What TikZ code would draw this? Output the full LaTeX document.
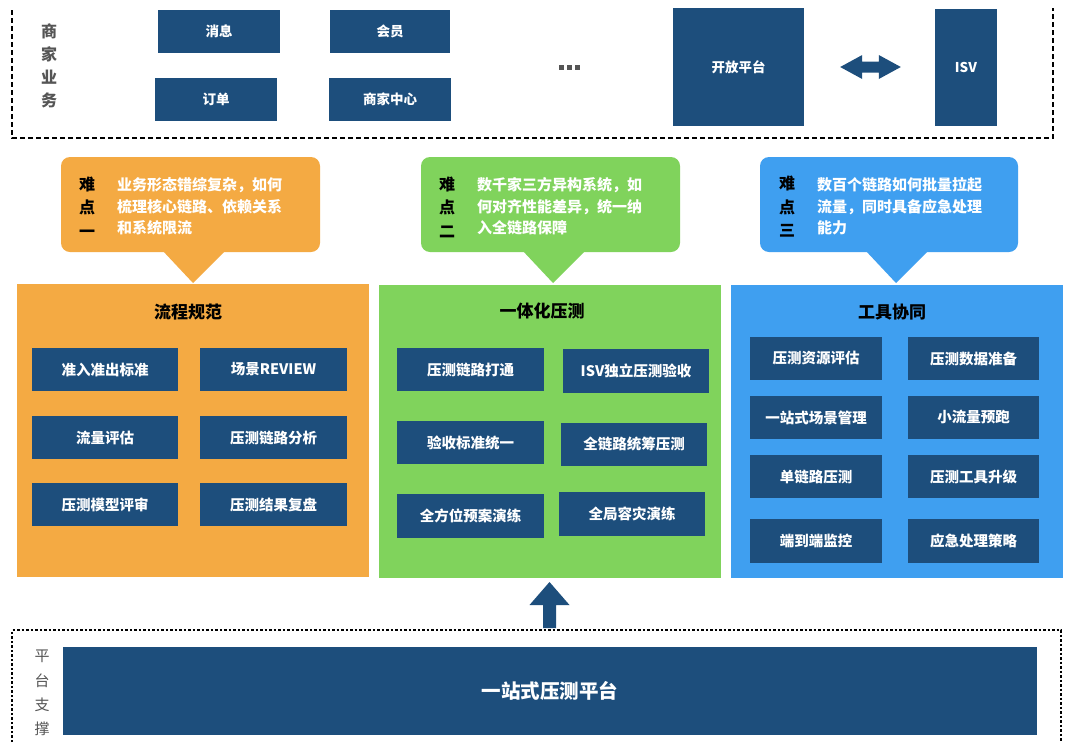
\documentclass[tikz,border=0pt]{standalone}
\usepackage{fontspec}
\setmainfont{Noto Sans CJK SC}
\usetikzlibrary{calc}
\definecolor{dkb}{HTML}{1D4E7C}
\definecolor{corg}{HTML}{F4AA43}
\definecolor{cgrn}{HTML}{80D35C}
\definecolor{cblu}{HTML}{3F9FF0}
\definecolor{gtxt}{HTML}{555555}
\begin{document}
\begin{tikzpicture}[x=1pt,y=-1pt,
  box/.style={fill=dkb,text=white,font=\fontsize{14.5}{16}\selectfont\bfseries,inner sep=0pt,minimum height=43pt},
  topbox/.style={fill=dkb,text=white,font=\fontsize{13.5}{16}\selectfont\bfseries,inner sep=0pt},
  panel/.style={inner sep=0pt},
  ptitle/.style={font=\fontsize{17}{20}\selectfont\bfseries,text=black},
  callout/.style={rounded corners=9pt,inner sep=0pt},
  cllabel/.style={font=\fontsize{16}{23.5}\selectfont\bfseries,text=black,align=center,inner sep=0pt},
  clbody/.style={font=\fontsize{15}{21.5}\selectfont\bfseries,text=white,align=left,inner sep=0pt,anchor=west},
  vlabel/.style={font=\fontsize{16}{23}\selectfont\bfseries,text=gtxt,align=center,inner sep=0pt},
  dashbox/.style={line width=2.2pt,dash pattern=on 5pt off 3pt},
  dotbox/.style={line width=2pt,dash pattern=on 2.5pt off 2pt}
]
\useasboundingbox (0,0) rectangle (1068,742);
\fill[white] (0,0) rectangle (1068,742);

% ---------- top business area ----------
\coordinate (tbl) at (12,10);
\coordinate (tbb) at (12,138);
\coordinate (tbr) at (1053,138);
\coordinate (tbt) at (1053,8);
\draw[dashbox] (tbl) -- (tbb) -- (tbr) -- (tbt);
\node[vlabel] (biz) at (49,66) {商\\家\\业\\务};

\node[topbox,minimum width=122pt,minimum height=43pt] (xx) at (219,31.5) {消息};
\node[topbox,minimum width=120pt,minimum height=43pt] (hy) at (390,31.5) {会员};
\node[topbox,minimum width=122pt,minimum height=43pt] (dd) at (216,99.5) {订单};
\node[topbox,minimum width=122pt,minimum height=43pt] (sj) at (390,99.5) {商家中心};
\node[inner sep=0pt,minimum width=24pt,minimum height=6pt] (dots) at (569,67) {};
\foreach \i in {-8,0,8} \fill[gtxt] ($(dots.center)+(\i-2.5,-2.5)$) rectangle ++(5,5);
\node[topbox,minimum width=131pt,minimum height=118pt] (kf) at (738.5,67) {开放平台};
\node[topbox,minimum width=62pt,minimum height=117pt] (isv) at (966,67) {ISV};

% double arrow between 开放平台 and ISV
\coordinate (dal) at ($(kf.east)+(36,0)$);
\coordinate (dar) at ($(isv.west)+(-34,0)$);
\fill[dkb] (dal) -- ($(dal)+(22,-12)$) -- ($(dal)+(22,-5.5)$) -- ($(dar)+(-22,-5.5)$) -- ($(dar)+(-22,-12)$)
  -- (dar) -- ($(dar)+(-22,12)$) -- ($(dar)+(-22,5.5)$) -- ($(dal)+(22,5.5)$) -- ($(dal)+(22,12)$) -- cycle;

% ---------- callouts ----------
\node[callout,fill=corg,minimum width=259pt,minimum height=95pt] (c1) at (190.5,204.5) {};
\fill[corg] (162,250) -- (226,250) -- (193,283) -- cycle;
\node[cllabel] (c1l) at (87,207) {难\\点\\一};
\node[clbody] (c1b) at (117,206.5) {业务形态错综复杂，如何\\梳理核心链路、依赖关系\\和系统限流};

\node[callout,fill=cgrn,minimum width=259pt,minimum height=95pt] (c2) at (550.5,204.5) {};
\fill[cgrn] (522,250) -- (586,250) -- (553,283) -- cycle;
\node[cllabel] (c2l) at (447,207) {难\\点\\二};
\node[clbody] (c2b) at (477,206.5) {数千家三方异构系统，如\\何对齐性能差异，统一纳\\入全链路保障};

\node[callout,fill=cblu,minimum width=258pt,minimum height=95pt] (c3) at (889,204.5) {};
\fill[cblu] (865,250) -- (929,250) -- (896,283) -- cycle;
\node[cllabel] (c3l) at (787,207) {难\\点\\三};
\node[clbody] (c3b) at (817,206.5) {数百个链路如何批量拉起\\流量，同时具备应急处理\\能力};

% ---------- panels ----------
\node[panel,fill=corg,minimum width=352pt,minimum height=293pt] (p1) at (193,430.5) {};
\node[ptitle] (p1t) at (188,312) {流程规范};
\node[box,minimum width=146pt] (a1) at (105,369.5) {准入准出标准};
\node[box,minimum width=147pt] (a2) at (273.5,369.5) {场景REVIEW};
\node[box,minimum width=146pt] (a3) at (105,437.5) {流量评估};
\node[box,minimum width=147pt] (a4) at (273.5,437.5) {压测链路分析};
\node[box,minimum width=146pt] (a5) at (105,504.5) {压测模型评审};
\node[box,minimum width=147pt] (a6) at (273.5,504.5) {压测结果复盘};

\node[panel,fill=cgrn,minimum width=342pt,minimum height=293pt] (p2) at (550,431.5) {};
\node[ptitle] (p2t) at (542,311) {一体化压测};
\node[box,minimum width=147pt] (b1) at (470.5,369.5) {压测链路打通};
\node[box,minimum width=146pt,minimum height=44pt] (b2) at (636,371) {ISV独立压测验收};
\node[box,minimum width=147pt] (b3) at (470.5,442.5) {验收标准统一};
\node[box,minimum width=146pt] (b4) at (634,444) {全链路统筹压测};
\node[box,minimum width=147pt,minimum height=44pt] (b5) at (470.5,516) {全方位预案演练};
\node[box,minimum width=146pt,minimum height=44pt] (b6) at (632,514) {全局容灾演练};

\node[panel,fill=cblu,minimum width=332pt,minimum height=293pt] (p3) at (897,431.5) {};
\node[ptitle] (p3t) at (892,312) {工具协同};
\node[box,minimum width=132pt] (d1) at (816,358.5) {压测资源评估};
\node[box,minimum width=131pt] (d2) at (973.5,358.5) {压测数据准备};
\node[box,minimum width=132pt] (d3) at (816,417.5) {一站式场景管理};
\node[box,minimum width=131pt] (d4) at (973.5,417.5) {小流量预跑};
\node[box,minimum width=132pt] (d5) at (816,476.5) {单链路压测};
\node[box,minimum width=131pt] (d6) at (973.5,476.5) {压测工具升级};
\node[box,minimum width=132pt,minimum height=44pt] (d7) at (816,541) {端到端监控};
\node[box,minimum width=131pt,minimum height=44pt] (d8) at (973.5,541) {应急处理策略};

% ---------- platform support ----------
\coordinate (bbl) at (12,742);
\coordinate (bbtl) at (12,630);
\coordinate (bbtr) at (1061,630);
\coordinate (bbr) at (1061,742);
\draw[dotbox] (bbl) -- (bbtl) -- (bbtr) -- (bbr);
\node[font=\fontsize{15}{24.3}\selectfont,text=gtxt,align=center,inner sep=0pt] (plab) at (42,693) {平\\台\\支\\撑};
\node[fill=dkb,text=white,font=\fontsize{19.5}{22}\selectfont\bfseries,inner sep=0pt,minimum width=974pt,minimum height=88pt] (plat) at (550,691) {一站式压测平台};

% up arrow from platform area to 一体化压测
\coordinate (uab) at (549.5,628);
\coordinate (uat) at (549.5,582);
\fill[dkb] (uat) -- ($(uat)+(20,23)$) -- ($(uat)+(6.5,23)$) -- ($(uab)+(6.5,0)$) -- ($(uab)+(-6.5,0)$)
  -- ($(uat)+(-6.5,23)$) -- ($(uat)+(-20,23)$) -- cycle;
\end{tikzpicture}
\end{document}
